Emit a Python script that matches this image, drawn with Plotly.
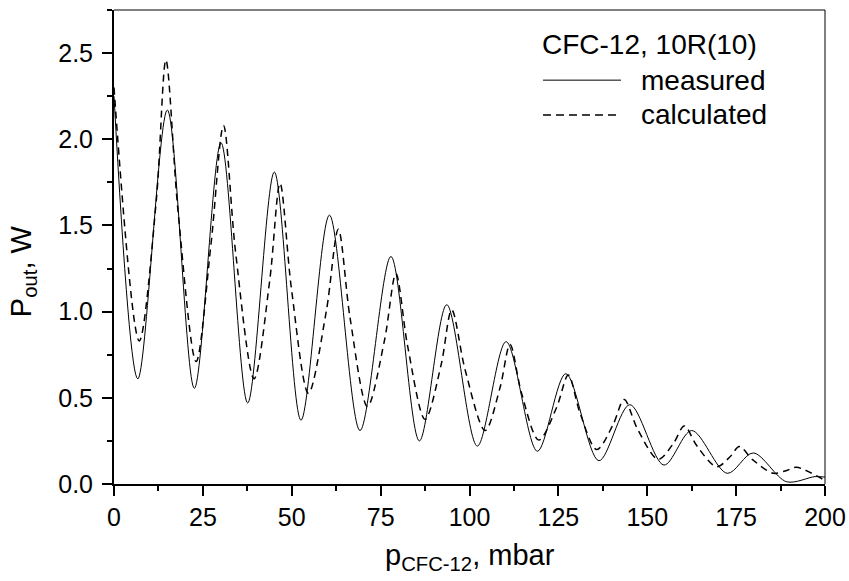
import plotly.graph_objects as go

# measured curve (solid)
meas_p = [0, 6.7, 15.0, 22.6, 30.1, 37.6, 45.1, 52.6, 60.6, 69.2, 77.9, 85.9, 93.6,
          102.2, 110.3, 119.1, 127.1, 136.4, 145.1, 154.7, 162.5, 172.5, 179.8,
          189.2, 197.2, 200]
meas_w = [2.25, 0.61, 2.17, 0.555, 1.98, 0.47, 1.81, 0.37, 1.56, 0.31, 1.32, 0.25, 1.04,
          0.22, 0.826, 0.19, 0.64, 0.135, 0.46, 0.11, 0.31, 0.062, 0.18,
          0.013, 0.043, 0.04]

# calculated curve (dashed)
calc_p = [0, 7.1, 11.9, 14.6, 18.0, 23.1, 27.3, 30.8, 34.2, 39.4, 43.8, 46.7, 49.9,
          54.7, 59.7, 63.1, 66.4, 71.3, 76.1, 79.3, 82.6, 87.5, 92.0, 95.0, 98.8,
          104.4, 108.6, 111.4, 114.6, 119.5, 124.5, 127.8, 131.0, 135.8, 140.4,
          143.5, 147.3, 153.1, 157.5, 160.4, 164.0, 169.5, 173.3, 175.9, 179.7,
          185.5, 189.4, 192.0, 200]
calc_w = [2.3, 0.83, 1.645, 2.46, 1.585, 0.71, 1.395, 2.08, 1.345, 0.61, 1.18, 1.745, 1.135,
          0.526, 1.0, 1.478, 0.964, 0.45, 0.835, 1.22, 0.8, 0.375, 0.69, 1.01, 0.66,
          0.31, 0.56, 0.81, 0.53, 0.255, 0.444, 0.633, 0.417, 0.20, 0.345,
          0.49, 0.317, 0.143, 0.24, 0.337, 0.22, 0.10, 0.158, 0.217, 0.14,
          0.062, 0.08, 0.097, 0.02]

legend_title = "CFC-12, 10R(10)"
series_names = ["measured", "calculated"]

FONT = "Liberation Sans, Arial, sans-serif"

fig = go.Figure()
fig.add_trace(go.Scatter(x=meas_p, y=meas_w, mode="lines", name=series_names[0],
                         line=dict(color="black", width=1, shape="spline", smoothing=0.9),
                         showlegend=False))
fig.add_trace(go.Scatter(x=calc_p, y=calc_w, mode="lines", name=series_names[1],
                         line=dict(color="black", width=1.5, dash="7px,5px",
                                   shape="spline", smoothing=0.9),
                         showlegend=False))

fig.update_layout(
    width=849, height=581,
    margin=dict(l=114, r=24, t=10, b=97),
    paper_bgcolor="white", plot_bgcolor="white",
    font=dict(family=FONT, color="black", size=25),
    xaxis=dict(range=[0, 200], tickmode="linear", tick0=0, dtick=25, automargin=False,
               ticks="outside", ticklen=10, tickwidth=2, tickcolor="black",
               showline=True, linewidth=2, linecolor="black",
               showgrid=False, zeroline=False,
               minor=dict(dtick=12.5, ticklen=5, tickwidth=2, tickcolor="black", ticks="outside"),
               tickfont=dict(size=25, family=FONT)),
    yaxis=dict(range=[0, 2.75], tickmode="linear", tick0=0, dtick=0.5, tickformat=".1f",
               automargin=False,
               ticks="outside", ticklen=10, tickwidth=2, tickcolor="black",
               showline=True, linewidth=2, linecolor="black",
               showgrid=False, zeroline=False,
               minor=dict(dtick=0.25, ticklen=5, tickwidth=2, tickcolor="black", ticks="outside"),
               tickfont=dict(size=25, family=FONT), ticklabelstandoff=4),
    showlegend=False,
)

# top and right frame lines (thin)
fig.add_shape(type="line", xref="paper", yref="paper", x0=0, x1=1, y0=1, y1=1,
              line=dict(color="black", width=1))
fig.add_shape(type="line", xref="paper", yref="paper", x0=1, x1=1, y0=0, y1=1,
              line=dict(color="black", width=1))

# axis titles
fig.add_annotation(text="p<sub>CFC-12</sub>, mbar", xref="paper", yref="paper",
                   x=0.5, y=-0.112, xanchor="center", yanchor="top", showarrow=False,
                   font=dict(size=29, family=FONT))
fig.add_annotation(text="P<sub>out</sub>, W", xref="paper", yref="paper",
                   x=-0.128, y=0.449, xanchor="center", yanchor="middle", showarrow=False,
                   textangle=-90, font=dict(size=29, family=FONT))

# legend (drawn manually)
fig.add_annotation(text=legend_title, xref="paper", yref="paper",
                   x=0.599, y=0.928, xanchor="left", yanchor="middle", showarrow=False,
                   font=dict(size=28, family=FONT))
fig.add_shape(type="line", xref="paper", yref="paper", x0=0.6034, x1=0.7131, y0=0.852, y1=0.852,
              line=dict(color="black", width=1))
fig.add_shape(type="line", xref="paper", yref="paper", x0=0.6034, x1=0.7131, y0=0.7785, y1=0.7785,
              line=dict(color="black", width=1.5, dash="8px,5px"))
fig.add_annotation(text=series_names[0], xref="paper", yref="paper",
                   x=0.7384, y=0.852, xanchor="left", yanchor="middle", showarrow=False,
                   font=dict(size=28, family=FONT))
fig.add_annotation(text=series_names[1], xref="paper", yref="paper",
                   x=0.7384, y=0.7785, xanchor="left", yanchor="middle", showarrow=False,
                   font=dict(size=28, family=FONT))

fig.write_html("out.html")
